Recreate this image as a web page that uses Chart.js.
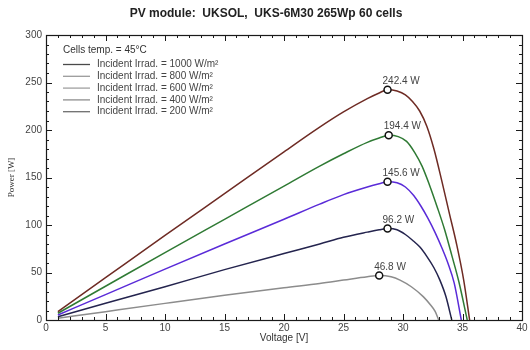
<!DOCTYPE html>
<html>
<head>
<meta charset="utf-8">
<script src="https://cdn.jsdelivr.net/npm/chart.js@4.4.1/dist/chart.umd.min.js"></script>
<style>
html, body { margin: 0; padding: 0; background: #fff; }
#wrap { width: 530px; height: 350px; }
</style>
</head>
<body>
<div id="wrap"><canvas id="pvChart"></canvas></div>
<script>
// ==========================================================================
// DATA
// ==========================================================================
const chartTitle = 'PV module:  UKSOL,  UKS-6M30 265Wp 60 cells';
const legendHeader = 'Cells temp. = 45°C';
const irradLabels = [
    'Incident Irrad. = 1000 W/m²',
    'Incident Irrad. = 800 W/m²',
    'Incident Irrad. = 600 W/m²',
    'Incident Irrad. = 400 W/m²',
    'Incident Irrad. = 200 W/m²'
];

const volts1000 = [1, 5, 10, 15, 20, 23, 25, 27, 28, 28.7, 29.5, 30.2, 30.8, 31.4, 32, 32.6, 33.25, 33.9, 34.5, 35.1, 35.6];
const power1000 = [8.9, 44.5, 89, 133, 177, 203, 219, 233, 239, 242.4, 241, 237, 230, 220, 204, 180, 147, 112, 80, 42, 0];

const volts800 = [1, 5, 10, 15, 20, 23, 25, 27, 28, 28.8, 29.6, 30.3, 31, 31.6, 32.2, 32.9, 33.5, 34.1, 34.7, 35.4];
const power800 = [7.1, 35.5, 71, 106, 141, 162, 175, 187, 191.5, 194.4, 193, 188, 176, 162, 143, 118, 95, 68, 40, 0];

const volts600 = [1, 5, 10, 15, 20, 23, 25, 27, 28, 28.7, 29.5, 30.2, 30.9, 31.5, 32.1, 32.7, 33.3, 33.8, 34.3, 34.9];
const power600 = [5.3, 26.7, 53.5, 80, 106, 122, 132, 140, 143.5, 145.6, 144.5, 140, 131, 120, 107, 92, 75, 59, 39, 0];

const volts400 = [1, 5, 10, 15, 20, 23, 25, 27, 28, 28.7, 29.5, 30.2, 30.8, 31.4, 32, 32.6, 33.1, 33.6, 34.1];
const power400 = [3.5, 17.6, 35, 53, 70, 80, 87, 92.5, 95, 96.2, 95, 90, 84, 77, 67, 55, 42, 25, 0];

const volts200 = [1, 5, 10, 15, 20, 23, 25, 27, 28, 29, 29.75, 30.7, 31.7, 32.3, 32.7, 33.0];
const power200 = [1.8, 8.8, 17.5, 26, 34, 38.5, 42, 45.5, 46.8, 45.5, 42, 35, 24.6, 16, 9, 0];

// maximum power points
const mppVolts = [28.7, 28.8, 28.7, 28.7, 28.0];
const mppPower = [242.4, 194.4, 145.6, 96.2, 46.8];
const mppLabels = ['242.4 W', '194.4 W', '145.6 W', '96.2 W', '46.8 W'];

const seriesColors = ['#6e2b24', '#2f7a34', '#5a2bd8', '#24244e', '#8c8c8c'];
const legendLineColors = ['#4a4a4a', '#9a9a9a', '#a0a0a0', '#8e8e8e', '#6e6e6e'];

const curveVolts = [volts1000, volts800, volts600, volts400, volts200];
const curvePower = [power1000, power800, power600, power400, power200];

// ==========================================================================
// CUSTOM DRAWING (frame, inward ticks, title, legend, MPP labels)
// ==========================================================================
const pvPlugin = {
    id: 'pvPlugin',
    afterDraw(chart) {
        const { ctx, chartArea: a, scales: { x, y } } = chart;
        ctx.save();

        // title
        ctx.fillStyle = '#222';
        ctx.font = 'bold 12px "Liberation Sans", Arial, sans-serif';
        ctx.textAlign = 'center';
        ctx.textBaseline = 'middle';
        ctx.fillText(chartTitle, 266, 14);

        // box round the plot
        ctx.strokeStyle = '#1a1a1a';
        ctx.lineWidth = 1.2;
        ctx.strokeRect(a.left + 0.5, a.top + 0.5, a.right - a.left, a.bottom - a.top);

        // inward ticks on all four sides
        ctx.lineWidth = 1;
        ctx.beginPath();
        for (let v = 0; v <= 40; v++) {
            const px = Math.round(x.getPixelForValue(v)) + 0.5;
            const len = v % 5 === 0 ? 6 : 3;
            ctx.moveTo(px, a.bottom); ctx.lineTo(px, a.bottom - len);
            ctx.moveTo(px, a.top); ctx.lineTo(px, a.top + len);
        }
        for (let p = 0; p <= 300; p += 10) {
            const py = Math.round(y.getPixelForValue(p)) + 0.5;
            const len = p % 50 === 0 ? 6 : 3;
            ctx.moveTo(a.left, py); ctx.lineTo(a.left + len, py);
            ctx.moveTo(a.right, py); ctx.lineTo(a.right - len, py);
        }
        ctx.stroke();

        // legend inside the plot
        ctx.textAlign = 'left';
        ctx.fillStyle = '#333';
        ctx.font = '10px "Liberation Sans", Arial, sans-serif';
        ctx.fillText(legendHeader, 63, 50);
        irradLabels.forEach((label, i) => {
            const ly = 64.5 + i * 11.8;
            ctx.strokeStyle = legendLineColors[i];
            ctx.lineWidth = 1.3;
            ctx.beginPath();
            ctx.moveTo(63, ly); ctx.lineTo(90, ly);
            ctx.stroke();
            ctx.fillStyle = '#444';
            ctx.fillText(label, 97, ly);
        });

        // MPP value labels
        const meta = chart.getDatasetMeta(0);
        ctx.fillStyle = '#444';
        ctx.font = '10px "Liberation Sans", Arial, sans-serif';
        ctx.textBaseline = 'alphabetic';
        meta.data.forEach((pt, i) => {
            ctx.fillText(mppLabels[i], pt.x - 5, pt.y - 6);
        });

        ctx.restore();
    }
};

// ==========================================================================
// CHART
// ==========================================================================
const curveSets = curveVolts.map((vs, i) => ({
    label: irradLabels[i],
    data: vs.map((v, k) => ({ x: v, y: curvePower[i][k] })),
    borderColor: seriesColors[i],
    borderWidth: 1.5,
    pointRadius: 0,
    cubicInterpolationMode: 'monotone',
    fill: false,
    order: 1
}));

const mppSet = {
    label: 'MPP',
    data: mppVolts.map((v, i) => ({ x: v, y: mppPower[i] })),
    showLine: false,
    pointRadius: 3.5,
    pointBackgroundColor: '#fff',
    pointBorderColor: '#111',
    pointBorderWidth: 1.5,
    order: 0
};

const tickFont = { size: 10, family: '"Liberation Sans", Arial, sans-serif' };

new Chart(document.getElementById('pvChart'), {
    type: 'line',
    data: { datasets: [mppSet, ...curveSets] },
    options: {
        responsive: true,
        maintainAspectRatio: false,
        animation: false,
        layout: { padding: { top: 35, right: 8, left: 0, bottom: 0 } },
        plugins: {
            legend: { display: false },
            tooltip: { enabled: false }
        },
        scales: {
            x: {
                type: 'linear',
                min: 0, max: 40,
                afterFit: (s) => { s.height = 30; },
                grid: { drawOnChartArea: false, drawTicks: false },
                border: { display: false },
                ticks: { stepSize: 5, color: '#444', font: tickFont, padding: 2, autoSkip: false, maxRotation: 0 },
                title: { display: true, text: 'Voltage [V]', color: '#333', font: tickFont, padding: { top: 0, bottom: 6 } }
            },
            y: {
                min: 0, max: 300,
                afterFit: (s) => { s.width = 46; },
                grid: { drawOnChartArea: false, drawTicks: false },
                border: { display: false },
                ticks: { stepSize: 50, color: '#444', font: tickFont, padding: 4 },
                title: { display: true, text: 'Power [W]', color: '#333', font: { size: 9, family: '"Liberation Serif", serif' }, padding: { top: 6, bottom: 0 } }
            }
        }
    },
    plugins: [pvPlugin]
});
</script>
</body>
</html>
